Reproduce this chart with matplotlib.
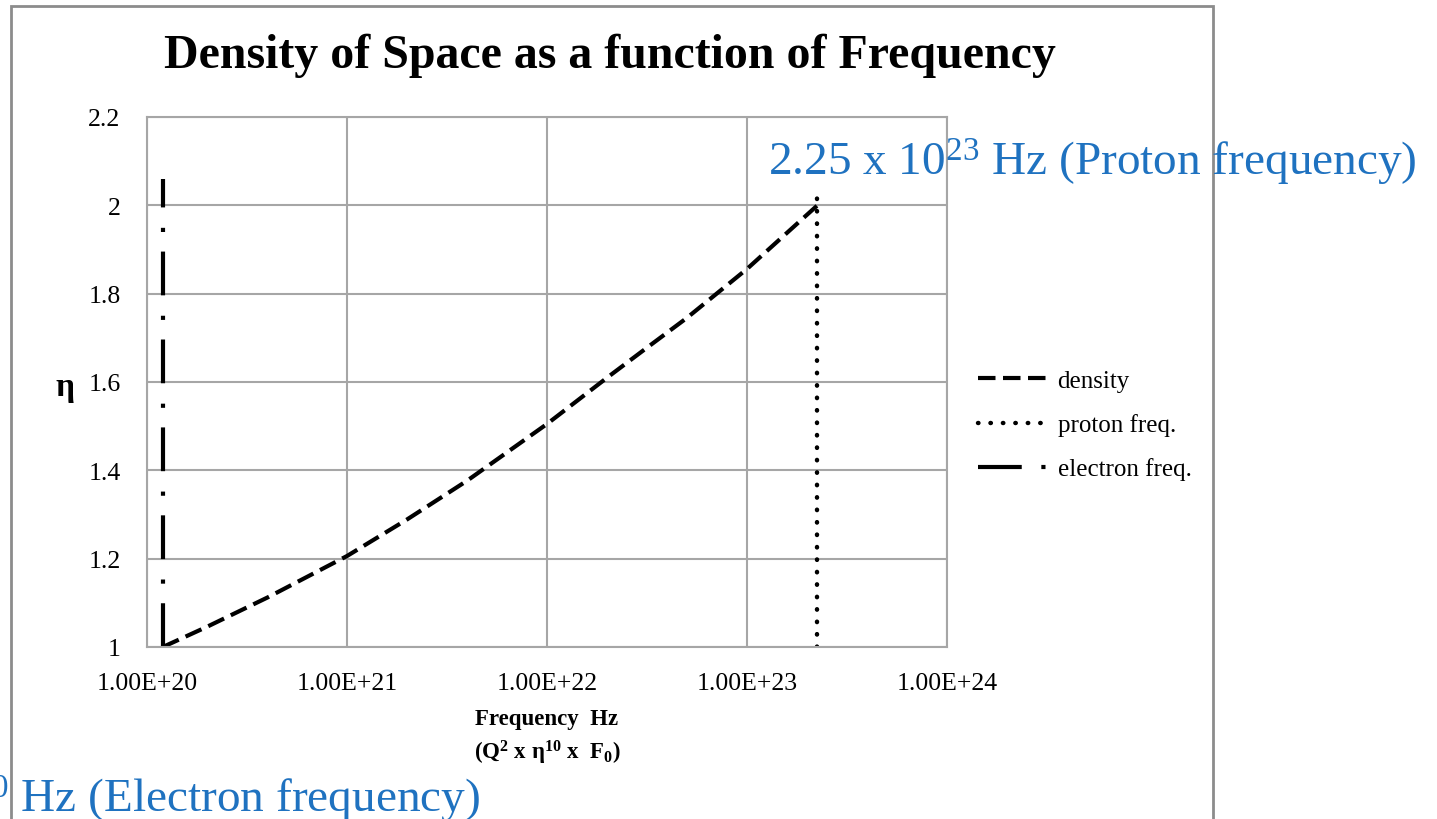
import matplotlib
matplotlib.use("Agg")
import matplotlib.pyplot as plt
from matplotlib.patches import Rectangle

# frequency (Hz) vs density of space (eta)
freq = [1.2e20, 2e20, 4e20, 1e21, 2e21, 4e21, 1e22, 2e22, 3e22, 5e22, 1e23, 2.25e23]
eta = [1.0, 1.046, 1.112, 1.206, 1.289, 1.377, 1.505, 1.61, 1.67, 1.745, 1.856, 2.0]

electron_f = [1.2e20, 1.2e20]
electron_eta = [1.0, 2.06]
proton_f = [2.25e23, 2.25e23]
proton_eta = [1.0, 2.03]

x_ticks = [1e20, 1e21, 1e22, 1e23, 1e24]
x_labels = ['1.00E+20', '1.00E+21', '1.00E+22', '1.00E+23', '1.00E+24']
y_ticks = [1, 1.2, 1.4, 1.6, 1.8, 2, 2.2]
y_labels = ['1', '1.2', '1.4', '1.6', '1.8', '2', '2.2']

plt.rcParams['font.family'] = ['Liberation Serif', 'DejaVu Serif']
plt.rcParams['mathtext.default'] = 'regular'

W, H = 1437, 820
fig = plt.figure(figsize=(W / 100, H / 100), dpi=100)
ax = fig.add_axes([147 / W, 1 - 648 / H, 800 / W, 530 / H])

grey = '#a6a6a6'
ax.plot(freq, eta, color='black', lw=3.0, ls=(0, (4.2, 1.8)), label='density')
ax.plot(proton_f, proton_eta, color='black', lw=3.2, ls=(0, (0.1, 2.7)),
        dash_capstyle='round', label='proton freq.')
ax.plot(electron_f, electron_eta, color='black', lw=3.0,
        ls=(0, (10.5, 4.7, 1.0, 4.9)), label='electron freq.')

ax.set_xscale('log')
ax.set_xlim(1e20, 1e24)
ax.set_ylim(1, 2.2)
ax.set_xticks(x_ticks)
ax.set_xticklabels(x_labels)
ax.minorticks_off()
ax.set_yticks(y_ticks)
ax.set_yticklabels(y_labels)
ax.tick_params(length=0, labelsize=18.5, colors='black')
ax.tick_params(axis='x', pad=18)
ax.tick_params(axis='y', pad=19)
ax.grid(True, color=grey, lw=1.5)
ax.set_axisbelow(True)
for s in ax.spines.values():
    s.set_color(grey)
    s.set_linewidth(1.5)

ax.set_xlabel('Frequency  Hz\n(Q$^2$ x η$^{10}$ x  F$_0$)', fontsize=16.5,
              fontweight='bold', labelpad=10, linespacing=1.45)
fig.text(65 / W, 1 - 388 / H, 'η', fontsize=24, fontweight='bold',
         ha='center', va='center')

fig.text(610 / W, 1 - 56 / H, 'Density of Space as a function of Frequency',
         fontsize=34.5, fontweight='bold', ha='center', va='center')

ax.legend(loc='center left', bbox_to_anchor=(955 / W, 1 - 426 / H),
          bbox_transform=fig.transFigure, frameon=False, fontsize=18,
          handlelength=2.75, handletextpad=0.45, labelspacing=0.85)

blue = '#1f72c0'
fig.text(768 / W, 1 - 163 / H, '2.25 x 10$^{23}$ Hz (Proton frequency)',
         fontsize=34, color=blue, ha='left', va='center')
fig.text(480 / W, 1 - 800 / H, '1.2 x 10$^{20}$ Hz (Electron frequency)',
         fontsize=34, color=blue, ha='right', va='center')

fig.patches.append(Rectangle((11 / W, -0.1), 1202 / W, (813 / H) + 0.1,
                             transform=fig.transFigure, fill=False,
                             edgecolor='#8c8c8c', lw=2))

fig.savefig('out.png', dpi=100)
